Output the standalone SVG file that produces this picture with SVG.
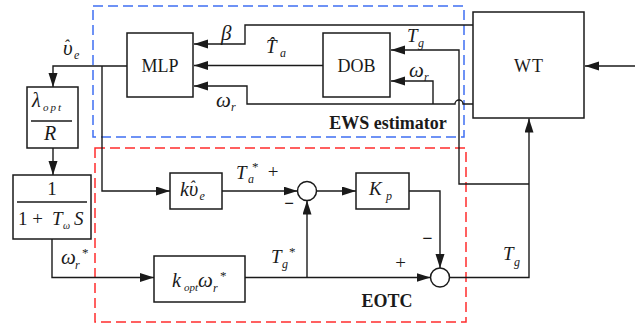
<svg xmlns="http://www.w3.org/2000/svg" width="635" height="326" viewBox="0 0 635 326">
<style>
.ln{fill:none;stroke:#1a1a1a;stroke-width:1.4}
.bx{fill:#fff;stroke:#1a1a1a;stroke-width:1.5}
.t{font-family:"Liberation Serif",serif;fill:#1a1a1a}
.i{font-family:"Liberation Serif",serif;font-style:italic;fill:#1a1a1a}
.bd{font-family:"Liberation Serif",serif;font-weight:bold;fill:#1a1a1a}
.blue{fill:none;stroke:#3f6ff2;stroke-width:1.5;stroke-dasharray:10 5}
.red{fill:none;stroke:#ff2d2d;stroke-width:1.5;stroke-dasharray:10 5}
</style>
<defs>
<marker id="ah" markerUnits="userSpaceOnUse" markerWidth="15" markerHeight="10" refX="14" refY="4.5" orient="auto">
<path d="M0,0 L14,4.5 L0,9 Z" fill="#1a1a1a"/>
</marker>
</defs>
<rect width="635" height="326" fill="#fff"/>

<g id="regions">
<rect class="blue" x="93" y="6" width="371" height="131"/>
<rect class="red" x="95" y="148" width="371" height="174"/>
<text class="bd" x="388" y="129" font-size="18" text-anchor="middle">EWS estimator</text>
<text class="bd" x="387" y="307" font-size="18" text-anchor="middle">EOTC</text>
</g>

<g id="connectors">
<path class="ln" d="M473,25 H245 V44 H194" marker-end="url(#ah)"/>
<path class="ln" d="M323,65.5 H194" marker-end="url(#ah)"/>
<path class="ln" d="M473,104 H463 A4,4 0 0 0 455,104 H247 V86 H194" marker-end="url(#ah)"/>
<path class="ln" d="M433,104 V81 H391" marker-end="url(#ah)"/>
<path class="ln" d="M529,184 H459 V50 H391" marker-end="url(#ah)"/>
<path class="ln" d="M635,66 H585" marker-end="url(#ah)"/>
<path class="ln" d="M127,66 H53 V87" marker-end="url(#ah)"/>
<path class="ln" d="M102,66 V191 H170" marker-end="url(#ah)"/>
<path class="ln" d="M53,148 V175" marker-end="url(#ah)"/>
<path class="ln" d="M52,239 V277.5 H154" marker-end="url(#ah)"/>
<path class="ln" d="M245,277.5 H430.5" marker-end="url(#ah)"/>
<path class="ln" d="M307,277.5 V200.5" marker-end="url(#ah)"/>
<path class="ln" d="M222,191 H297.5" marker-end="url(#ah)"/>
<path class="ln" d="M316.5,191 H356" marker-end="url(#ah)"/>
<path class="ln" d="M409,191 H440 V268" marker-end="url(#ah)"/>
<path class="ln" d="M449.5,277.5 H529 V118.5" marker-end="url(#ah)"/>
</g>

<g id="labels">
<text class="i" x="63" y="55" font-size="21">υ<tspan dx="-9" dy="-4" font-size="16">ˆ</tspan><tspan dx="5" dy="8" font-size="12">e</tspan></text>
<text class="i" x="221" y="40" font-size="21">β</text>
<text class="i" x="266" y="53" font-size="19">T̂</text>
<text class="i" x="280" y="57" font-size="12">a</text>
<text class="i" x="216" y="107" font-size="21">ω</text>
<text class="i" x="231" y="111" font-size="12">r</text>
<text class="i" x="407" y="42" font-size="19">T</text>
<text class="i" x="418" y="47" font-size="12">g</text>
<text class="i" x="409" y="77" font-size="21">ω</text>
<text class="i" x="424" y="81" font-size="12">r</text>
<text class="i" x="236" y="179" font-size="19">T</text>
<text class="i" x="248" y="183" font-size="12">a</text>
<text class="t" x="252" y="171" font-size="13">*</text>
<text class="t" x="273" y="178" font-size="19" text-anchor="middle">+</text>
<text class="bd" x="289" y="209" font-size="17" text-anchor="middle">−</text>
<text class="i" x="271" y="263" font-size="19">T</text>
<text class="i" x="282" y="268" font-size="12">g</text>
<text class="t" x="289" y="256" font-size="13">*</text>
<text class="i" x="61" y="264" font-size="21">ω</text>
<text class="i" x="75" y="269" font-size="12">r</text>
<text class="t" x="82" y="257" font-size="13">*</text>
<text class="bd" x="427.5" y="244" font-size="18" text-anchor="middle">−</text>
<text class="t" x="400.5" y="269" font-size="19" text-anchor="middle">+</text>
<text class="i" x="503" y="260" font-size="19">T</text>
<text class="i" x="514" y="266" font-size="12">g</text>
</g>

<g id="MLP">
<rect class="bx" x="127" y="33" width="66" height="64"/>
<text class="t" x="160" y="72" font-size="18" text-anchor="middle">MLP</text>
</g>
<g id="DOB">
<rect class="bx" x="323" y="33" width="67" height="64"/>
<text class="t" x="356.5" y="72" font-size="18" text-anchor="middle">DOB</text>
</g>
<g id="WT">
<rect class="bx" x="473" y="12" width="111" height="106"/>
<text class="t" x="529" y="72" font-size="18" text-anchor="middle" letter-spacing="1">WT</text>
</g>
<g id="lambda">
<rect class="bx" x="27" y="87" width="51" height="61"/>
<text class="i" x="32" y="107" font-size="20">λ</text>
<text class="i" x="43" y="111" font-size="11" letter-spacing="2">opt</text>
<line class="ln" x1="31" y1="121" x2="72" y2="121"/>
<text class="i" x="44" y="140" font-size="20">R</text>
</g>
<g id="filter">
<rect class="bx" x="13" y="175" width="78" height="64"/>
<text class="t" x="52" y="195" font-size="19" text-anchor="middle">1</text>
<line class="ln" x1="17" y1="202" x2="87" y2="202"/>
<text class="t" x="18" y="225" font-size="19">1 +</text>
<text class="i" x="52" y="225" font-size="19">T</text>
<text class="i" x="63" y="229" font-size="10">ω</text>
<text class="i" x="74" y="225" font-size="19">S</text>
</g>
<g id="kve">
<rect class="bx" x="170" y="173" width="52" height="36"/>
<text class="i" x="180" y="196" font-size="20">kυ<tspan dx="-8.5" dy="-4" font-size="16">ˆ</tspan><tspan dx="4.5" dy="8" font-size="12">e</tspan></text>
</g>
<g id="sum1">
<circle class="bx" cx="307" cy="191" r="9.5"/>
</g>
<g id="Kp">
<rect class="bx" x="356" y="173" width="53" height="36"/>
<text class="i" x="369" y="195" font-size="19">K</text>
<text class="i" x="386" y="200" font-size="12">p</text>
</g>
<g id="kopt">
<rect class="bx" x="154" y="256" width="91" height="46"/>
<text class="i" x="172" y="287" font-size="20">k</text>
<text class="i" x="184" y="291" font-size="11">opt</text>
<text class="i" x="198" y="287" font-size="21">ω</text>
<text class="i" x="213" y="292" font-size="12">r</text>
<text class="t" x="220" y="280" font-size="13">*</text>
</g>
<g id="sum2">
<circle class="bx" cx="440" cy="277.5" r="9.5"/>
</g>
</svg>
